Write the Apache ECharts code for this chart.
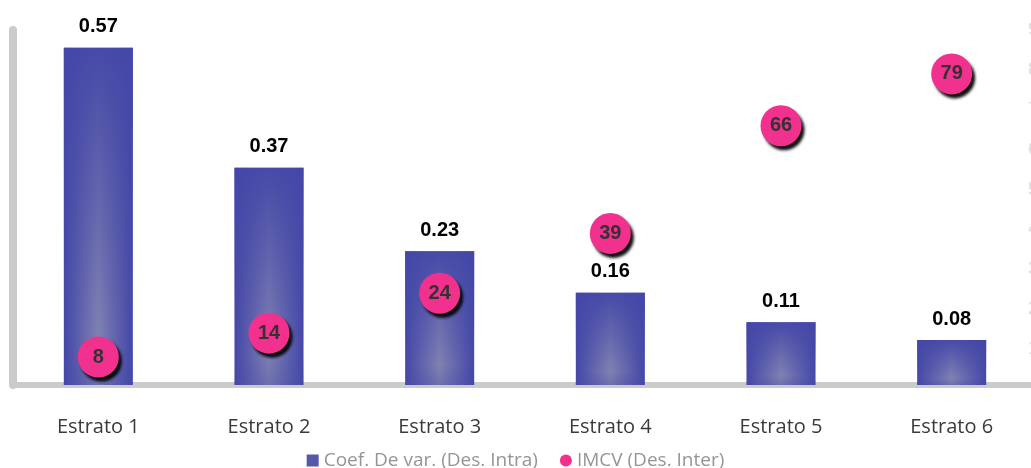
<!DOCTYPE html>
<html>
<head>
<meta charset="utf-8">
<script src="https://cdn.jsdelivr.net/npm/echarts@6/dist/echarts.min.js"></script>
<style>
html,body{margin:0;padding:0;background:#fff;}
#c{width:1031px;height:468px;}
</style>
</head>
<body>
<div id="c"></div>
<script>
var categories = ['Estrato 1', 'Estrato 2', 'Estrato 3', 'Estrato 4', 'Estrato 5', 'Estrato 6'];
var coefValues = [0.57, 0.367, 0.226, 0.156, 0.106, 0.076];
var imcvValues = [8, 14, 24, 39, 66, 79];
var rightTicks = [0, 10, 20, 30, 40, 50, 60, 70, 80, 90];
var seriesNames = ['Coef. De var. (Des. Intra)', 'IMCV (Des. Inter)'];

var chart = echarts.init(document.getElementById('c'), null, {renderer: 'canvas'});

var barFill = new echarts.graphic.LinearGradient(0, 0, 1, 0, [
  {offset: 0, color: '#4447A7'},
  {offset: 0.5, color: '#8082B2'},
  {offset: 1, color: '#4447A7'}
]);
var barShade = new echarts.graphic.LinearGradient(0, 0, 0, 1, [
  {offset: 0, color: 'rgba(68,71,167,0.95)'},
  {offset: 0.45, color: 'rgba(68,71,167,0.45)'},
  {offset: 0.85, color: 'rgba(68,71,167,0)'},
  {offset: 1, color: 'rgba(68,71,167,0.3)'}
]);

var option = {
  backgroundColor: '#ffffff',
  animation: false,
  grid: [
    {left: 13, width: 1024, top: 30, bottom: 83, containLabel: false, outerBoundsMode: 'none'},
    {left: 13, width: 1024, top: 30, bottom: 79, containLabel: false, outerBoundsMode: 'none'}
  ],
  legend: {
    top: 446,
    left: 'center',
    itemWidth: 12,
    itemHeight: 12,
    itemGap: 22,
    textStyle: {color: '#959595', fontSize: 19, fontFamily: 'Open Sans'},
    data: [
      {name: seriesNames[0], icon: 'rect', itemStyle: {color: '#5557A9'}},
      {name: seriesNames[1], icon: 'circle', itemStyle: {color: '#F2318E', shadowBlur: 0, shadowOffsetX: 0, shadowOffsetY: 0}}
    ]
  },
  xAxis: [
    {
      type: 'category',
      gridIndex: 0,
      data: categories,
      offset: 4,
      axisLine: {show: true, lineStyle: {color: '#cbcbcb', width: 6}},
      axisTick: {show: false},
      axisLabel: {color: '#3a3a3a', fontSize: 20, fontFamily: 'Open Sans', margin: 28}
    },
    {
      type: 'category',
      gridIndex: 1,
      data: categories,
      show: false
    }
  ],
  yAxis: [
    {
      type: 'value',
      gridIndex: 0,
      min: 0,
      max: 0.6,
      interval: 0.1,
      axisLine: {show: true, lineStyle: {color: '#cbcbcb', width: 8}},
      axisTick: {show: false},
      axisLabel: {show: false},
      splitLine: {show: false}
    },
    {
      type: 'value',
      gridIndex: 1,
      position: 'right',
      offset: -10,
      min: rightTicks[0],
      max: rightTicks[rightTicks.length - 1],
      interval: rightTicks[1] - rightTicks[0],
      axisLine: {show: false},
      axisTick: {show: false},
      splitLine: {show: false},
      axisLabel: {show: true, color: '#dcdcdc', fontSize: 18, fontFamily: 'Liberation Sans', margin: 1, showMinLabel: false}
    }
  ],
  series: [
    {
      name: seriesNames[0],
      type: 'bar',
      xAxisIndex: 0,
      yAxisIndex: 0,
      barWidth: 69,
      data: coefValues,
      itemStyle: {color: barFill},
      label: {
        show: true,
        position: 'top',
        distance: 11,
        color: '#000',
        fontSize: 20,
        fontWeight: 'bold',
        fontFamily: 'Liberation Sans',
        formatter: function (p) { return p.value.toFixed(2); }
      },
      z: 2
    },
    {
      name: 'shade',
      type: 'bar',
      xAxisIndex: 0,
      yAxisIndex: 0,
      barWidth: 69,
      barGap: '-100%',
      silent: true,
      data: coefValues,
      itemStyle: {color: barShade},
      z: 3
    },
    {
      name: seriesNames[1],
      type: 'scatter',
      xAxisIndex: 1,
      yAxisIndex: 1,
      symbol: 'circle',
      symbolSize: 41,
      data: imcvValues,
      itemStyle: {
        color: '#F2318E',
        opacity: 1,
        shadowColor: 'rgba(0,0,0,0.95)',
        shadowBlur: 3,
        shadowOffsetX: 3,
        shadowOffsetY: 4
      },
      label: {
        show: true,
        position: 'inside',
        color: '#333333',
        fontSize: 20,
        fontWeight: 'bold',
        fontFamily: 'Liberation Sans',
        textShadowBlur: 0
      },
      z: 5
    }
  ]
};
chart.setOption(option);
</script>
</body>
</html>
